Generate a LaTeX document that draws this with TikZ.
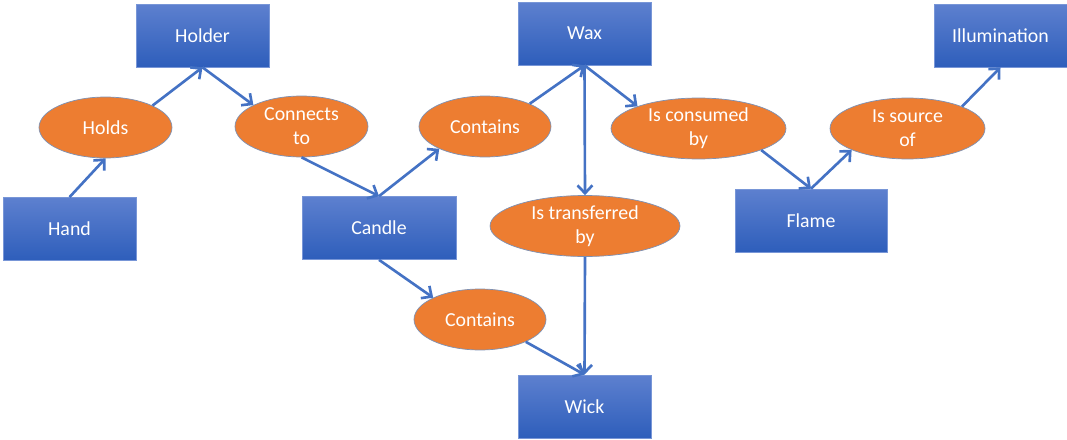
\documentclass[tikz,border=0pt]{standalone}
\usepackage{fontspec}
\setmainfont{Carlito}
\usetikzlibrary{arrows.meta}
\usetikzlibrary{shapes.geometric}

\definecolor{boxtop}{RGB}{93,128,207}
\definecolor{boxbot}{RGB}{46,94,187}
\definecolor{boxline}{RGB}{120,150,215}
\definecolor{linkfill}{RGB}{237,125,49}
\definecolor{linkline}{RGB}{125,145,180}
\definecolor{arrowblue}{RGB}{68,114,196}

\tikzset{
	concept/.style={rectangle,draw=boxline,line width=0.4pt,top color=boxtop,bottom color=boxbot,text=white,minimum width=2.66cm,minimum height=1.26cm,inner sep=0pt,font=\fontsize{11.3}{13.6}\selectfont},
	relation/.style={ellipse,draw=linkline,line width=0.4pt,fill=linkfill,text=white,minimum height=1.22cm,inner sep=0pt,align=center,font=\fontsize{11.3}{13.6}\selectfont},
	link/.style={draw=arrowblue,line width=1.5pt,-{Straight Barb[length=4.5pt,width=8.5pt,line width=1.5pt]}}
}

\begin{document}
\begin{tikzpicture}[x=0.02cm,y=-0.02cm]
		\useasboundingbox (0,0) rectangle (1067,439);

		\node [concept] (hand) at (69.5,229) {Hand};
		\node [concept] (holder) at (202.5,35.5) {Holder};
		\node [concept,minimum width=3.08cm] (candle) at (379,228) {Candle};
		\node [concept] (wax) at (584.5,33.5) {Wax};
		\node [concept,minimum width=3.04cm] (flame) at (811,220.5) {Flame};
		\node [concept] (illumination) at (1000.5,35.5) {Illumination};
		\node [concept] (wick) at (584.5,406.5) {Wick};

		\node [relation,minimum width=2.66cm] (holds) at (105.5,127.5) {Holds};
		\node [relation,minimum width=2.66cm] (connects) at (301.5,126.5) {Connects\\to};
		\node [relation,minimum width=2.64cm] (waxin) at (485,126.5) {Contains};
		\node [relation,minimum width=3.5cm] (consumed) at (698.5,128.5) {Is consumed\\by};
		\node [relation,minimum width=3.1cm] (source) at (907.5,128.5) {Is source\\of};
		\node [relation,minimum width=3.8cm] (transferred) at (585,226) {Is transferred\\by};
		\node [relation,minimum width=2.64cm] (wickin) at (480,319.5) {Contains};

		\draw [link] (hand.north) -- (holds.south);
		\draw [link] (holds.25) -- (holder.south);
		\draw [link] (holder.south) -- (connects.156);
		\draw [link] (connects.south) -- (candle.north);
		\draw [link] (candle.north) -- (waxin.206);
		\draw [link] (waxin.27) -- (wax.south);
		\draw [link] (wax.south) -- (consumed.160);
		\draw [link] (wax.south) -- (transferred.north);
		\draw [link] (consumed.-19) -- (flame.north);
		\draw [link] (flame.north) -- (source.201);
		\draw [link] (source.22) -- (illumination.south);
		\draw [link] (candle.south) -- (wickin.155);
		\draw [link] (wickin.-26) -- (wick.north);
		\draw [link] (transferred.south) -- (wick.north);
	\end{tikzpicture}
\end{document}
